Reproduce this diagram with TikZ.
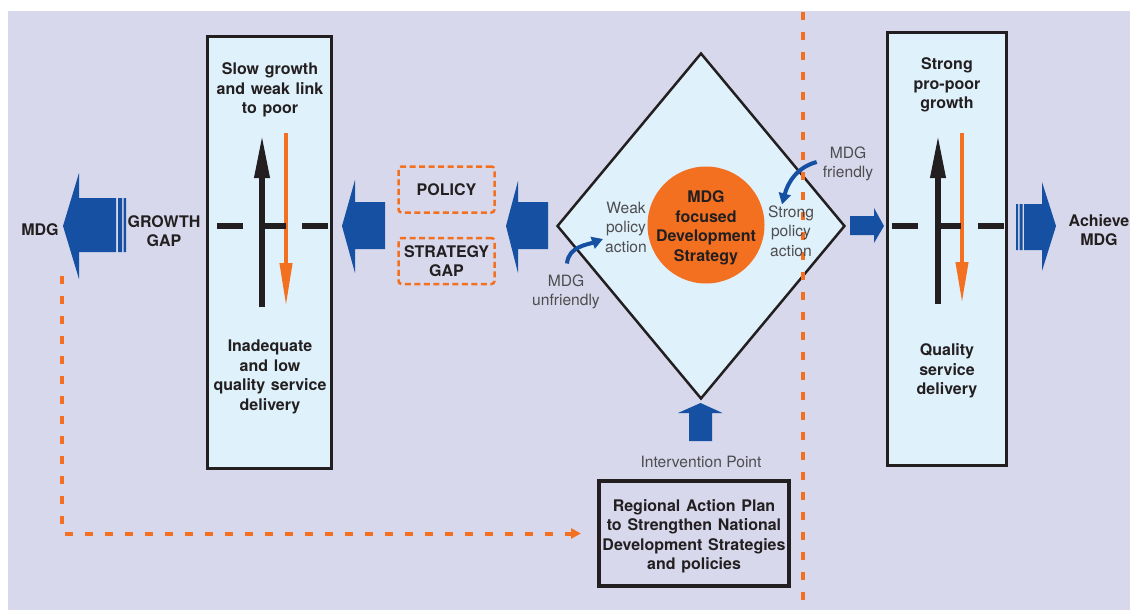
\documentclass[tikz,border=0pt]{standalone}
\usepackage{fontspec}
\setmainfont{TeX Gyre Heros}
\usetikzlibrary{arrows.meta,shapes.geometric}

\definecolor{bgcol}{RGB}{216,216,236}
\definecolor{boxcol}{RGB}{223,241,251}
\definecolor{mdgblue}{RGB}{22,80,162}
\definecolor{mdgorange}{RGB}{243,112,33}
\definecolor{inkcol}{RGB}{35,31,32}
\definecolor{softink}{RGB}{77,77,79}

\newcommand{\widewords}{\spaceskip=0.36em\relax}

\tikzstyle{boldtext}=[font=\fontsize{16}{19.5}\selectfont\bfseries\widewords, text=inkcol, align=center, inner sep=0pt]
\tikzstyle{thintext}=[font=\fontsize{15.6}{19.5}\selectfont, text=softink, align=center, inner sep=0pt]
\tikzstyle{phasebox}=[draw=inkcol, line width=3pt, fill=boxcol, inner sep=0pt]
\tikzstyle{gapbox}=[draw=mdgorange, line width=2.5pt, dash pattern=on 6pt off 3.5pt, rounded corners=3pt, minimum width=96, minimum height=46]
\tikzstyle{planbox}=[draw=inkcol, line width=4pt, minimum width=190, minimum height=105]
\tikzstyle{orangedots}=[mdgorange, line width=4pt, dash pattern=on 8pt off 12pt]
\tikzstyle{bluecurve}=[mdgblue, line width=4pt, -{Triangle[length=11pt,width=12pt]}]
\tikzstyle{gapdash}=[inkcol, line width=5.5pt]

\begin{document}
\begin{tikzpicture}[x=1pt, y=-1pt]
	\useasboundingbox (0,0) rectangle (1130,610);
	%background
	\fill[bgcol] (8,11) rectangle (1130,610);
	%boxes
	\node[phasebox, minimum width=124, minimum height=432] (slowbox) at (269.5,252.5) {};
	\node[phasebox, minimum width=119, minimum height=433] (strongbox) at (947,249) {};
	\node[diamond, draw=inkcol, line width=2.5pt, fill=boxcol, inner sep=0pt,
	minimum width=288, minimum height=346] (hub) at (701,226) {};
	\node[circle, fill=mdgorange, minimum size=117] (core) at (706,225) {};
	\node[boldtext, yshift=-3pt] (coretext) at (core) {MDG\\focused\\Development\\Strategy};
	\node[gapbox, boldtext] (policy) at (446.5,189.5) {POLICY};
	\node[gapbox, boldtext] (strategy) at (446.5,261) {STRATEGY\\GAP};
	\node[planbox] (plan) at (694,533.5) {};
	\node[boldtext, yshift=-3pt] (plantext) at (plan)
	{Regional Action Plan\\to Strengthen National\\Development Strategies\\and policies};
	%divider
	\draw[orangedots] (803,12) -- (803,600);
	%texts
	\node[boldtext] (slowtxt) at (270,90) {Slow growth\\and weak link\\to poor};
	\node[boldtext] (poorservice) at (270,377) {Inadequate\\and low\\quality service\\delivery};
	\node[boldtext] (propoor) at (947,85) {Strong\\pro-poor\\growth};
	\node[boldtext] (goodservice) at (947,371) {Quality\\service\\delivery};
	\node[boldtext] (mdgleft) at (40,230) {MDG};
	\node[boldtext] (growthgap) at (164,231) {GROWTH\\GAP};
	\node[boldtext] (achieve) at (1099,230) {Achieve\\MDG};
	\node[thintext] (weak) at (626,227) {Weak\\policy\\action};
	\node[thintext] (strong) at (791,231) {Strong\\policy\\action};
	\node[thintext] (unfriendly) at (566,292) {MDG\\unfriendly};
	\node[thintext] (friendly) at (848,164) {MDG\\friendly};
	\node[thintext] (intervene) at (701,462) {Intervention Point};
	%growth arrows
	\draw[inkcol, line width=6.5pt, -{Triangle[length=45pt,width=14pt]}] (262,307) -- (262,133);
	\draw[mdgorange, line width=4pt, -{Triangle[length=43pt,width=12pt]}] (286,133) -- (286,306);
	\draw[inkcol, line width=6.5pt, -{Triangle[length=45pt,width=14pt]}] (938,304) -- (938,133);
	\draw[mdgorange, line width=4pt, -{Triangle[length=41pt,width=12pt]}] (962,133) -- (962,303);
	\foreach \a/\b in {217/243, 265/286, 302/328, 892/918, 935/961, 978/1004}
	\draw[gapdash] (\a,226) -- (\b,226);
	%block arrows
	\fill[mdgblue] (116,198) -- (79,198) -- (79,173) -- (63,226) -- (79,279) -- (79,252) -- (116,252) -- cycle;
	\fill[mdgblue] (118,198) rectangle (122,252) (123.5,198) rectangle (126,252);
	\fill[mdgblue] (385,202) -- (355,202) -- (355,180) -- (342,226) -- (355,273) -- (355,249) -- (385,249) -- cycle;
	\fill[mdgblue] (548,202) -- (518,202) -- (518,181) -- (506,226) -- (518,273) -- (518,249) -- (548,249) -- cycle;
	\fill[mdgblue] (850,216) -- (874,216) -- (874,208) -- (884,226) -- (874,243) -- (874,235) -- (850,235) -- cycle;
	\fill[mdgblue] (1016,204) rectangle (1018,250) (1019.5,204) rectangle (1022.5,250);
	\fill[mdgblue] (1024,204) -- (1042,204) -- (1042,182) -- (1056,226) -- (1042,271) -- (1042,250) -- (1024,250) -- cycle;
	\fill[mdgblue] (689,441) -- (689,413) -- (678,413) -- (700.5,403) -- (722.5,413) -- (712,413) -- (712,441) -- cycle;
	%policy action arrows
	\draw[bluecurve] ([xshift=1pt,yshift=11pt]unfriendly.north) to[out=85,in=200] ([xshift=-2pt,yshift=-12pt]weak.west);
	\draw[bluecurve] ([xshift=-6pt,yshift=2pt]friendly.west) to[out=195,in=75] ([xshift=-9pt,yshift=1pt]strong.north);
	%feedback
	\coordinate (gapfoot) at (62,276);
	\draw[orangedots, -{Triangle[length=10pt,width=10pt]}] (gapfoot) |- ([xshift=-16pt]plan.west);
\end{tikzpicture}
\end{document}
